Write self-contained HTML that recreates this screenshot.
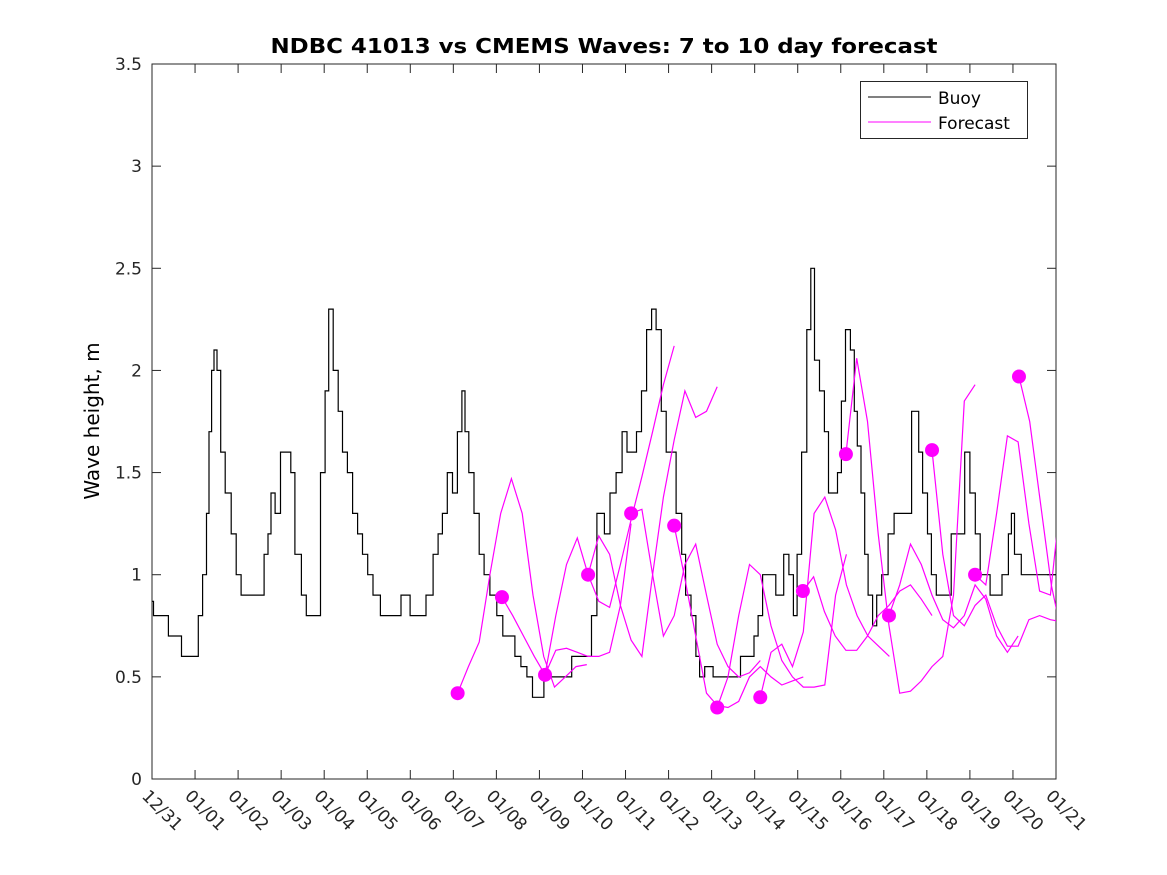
<!DOCTYPE html>
<html><head><meta charset="utf-8"><style>
html,body{margin:0;padding:0;background:#fff;}
svg{display:block;font-family:"DejaVu Sans","Liberation Sans",sans-serif;}
</style></head><body>
<svg id="chart" width="1167" height="875" viewBox="0 0 1167 875">
<rect x="0" y="0" width="1167" height="875" fill="#fff"/>
<text x="604" y="53" text-anchor="middle" font-weight="bold" font-size="20" textLength="667" lengthAdjust="spacingAndGlyphs">NDBC 41013 vs CMEMS Waves: 7 to 10 day forecast</text>
<g id="plot"></g>
<text transform="translate(99,421) rotate(-90)" text-anchor="middle" font-size="20">Wave height, m</text>
</svg>
<script>
const xTickLabels = ["12/31","01/01","01/02","01/03","01/04","01/05","01/06","01/07","01/08","01/09","01/10","01/11","01/12","01/13","01/14","01/15","01/16","01/17","01/18","01/19","01/20","01/21"];
const yTicks = [0,0.5,1,1.5,2,2.5,3,3.5];
const yTickLabels = ["0","0.5","1","1.5","2","2.5","3","3.5"];
const buoyDays = [0,0.07,0.3,0.46,0.65,0.72,1.03,1.12,1.23,1.3,1.35,1.42,1.46,1.56,1.63,1.77,1.91,2.0,2.14,2.56,2.65,2.74,2.79,2.93,3.04,3.2,3.25,3.39,3.55,3.62,3.86,3.97,4.07,4.14,4.28,4.37,4.48,4.6,4.72,4.83,4.95,5.07,5.2,5.41,5.64,5.76,5.81,5.95,6.04,6.27,6.46,6.6,6.69,6.8,6.92,7.04,7.15,7.25,7.29,7.43,7.53,7.67,7.76,7.94,8.08,8.22,8.36,8.5,8.64,8.78,8.9,9.08,9.13,9.6,9.9,10.13,10.29,10.38,10.45,10.57,10.71,10.85,10.99,11.08,11.2,11.31,11.43,11.55,11.66,11.76,11.9,11.99,12.08,12.27,12.34,12.45,12.59,12.68,12.76,12.92,13.15,13.4,13.94,14.03,14.13,14.24,14.35,14.63,14.72,14.87,14.93,15.04,15.14,15.28,15.33,15.45,15.56,15.68,15.75,15.87,15.98,16.05,16.17,16.28,16.35,16.42,16.52,16.59,16.68,16.8,16.87,17.03,17.17,17.31,17.61,17.68,17.78,17.84,17.96,18.07,18.14,18.3,18.53,18.6,18.83,18.93,19.07,19.18,19.3,19.64,19.85,19.94,19.99,20.08,20.31,20.59,21.0];
const buoyValues = [0.87,0.8,0.8,0.7,0.7,0.6,0.6,0.8,1.0,1.3,1.7,2.0,2.1,2.0,1.6,1.4,1.2,1.0,0.9,0.9,1.1,1.2,1.4,1.3,1.6,1.6,1.5,1.1,0.9,0.8,0.8,1.5,1.9,2.3,2.0,1.8,1.6,1.5,1.3,1.2,1.1,1.0,0.9,0.8,0.8,0.8,0.9,0.9,0.8,0.8,0.9,1.1,1.2,1.3,1.5,1.4,1.7,1.9,1.7,1.5,1.3,1.1,1.0,0.9,0.8,0.7,0.7,0.6,0.55,0.5,0.4,0.4,0.5,0.5,0.6,0.6,0.8,1.3,1.3,1.2,1.4,1.5,1.7,1.6,1.6,1.7,1.9,2.2,2.3,2.2,1.8,1.6,1.6,1.3,1.1,0.9,0.8,0.6,0.5,0.55,0.5,0.5,0.6,0.7,0.8,1.0,1.0,0.9,1.1,1.0,0.8,1.1,1.6,2.2,2.5,2.05,1.9,1.7,1.4,1.4,1.5,1.85,2.2,2.1,1.8,1.63,1.4,1.1,0.9,0.75,0.9,1.0,1.2,1.3,1.3,1.8,1.8,1.6,1.4,1.2,1.0,0.9,0.9,1.2,1.2,1.6,1.4,1.2,1.0,0.9,1.0,1.2,1.3,1.1,1.0,1.0,1.0];
const forecastStarts = [7.1,8.13,9.13,10.13,11.13,12.13,13.13,14.13,15.12,16.12,17.12,18.12,19.12,20.14];
const forecast1 = [0.42,0.55,0.67,1.0,1.3,1.47,1.3,0.9,0.6,0.45,0.5,0.55,0.56];
const forecast2 = [0.89,0.8,0.7,0.6,0.51,0.63,0.64,0.62,0.6,0.6,0.62,0.85,1.25];
const forecast3 = [0.51,0.8,1.05,1.18,1.0,0.87,0.84,1.05,1.27,1.48,1.7,1.93,2.12];
const forecast4 = [1.0,1.19,1.1,0.85,0.68,0.6,1.0,1.38,1.66,1.9,1.77,1.8,1.92];
const forecast5 = [1.3,1.32,1.0,0.7,0.8,1.05,1.15,0.9,0.66,0.55,0.5,0.52,0.58];
const forecast6 = [1.24,0.98,0.7,0.42,0.36,0.35,0.38,0.5,0.55,0.5,0.46,0.48,0.5];
const forecast7 = [0.35,0.5,0.8,1.05,1.0,0.75,0.58,0.5,0.45,0.45,0.46,0.9,1.1];
const forecast8 = [0.40,0.62,0.66,0.55,0.72,1.3,1.38,1.22,0.95,0.8,0.7,0.65,0.6];
const forecast9 = [0.92,0.99,0.82,0.7,0.63,0.63,0.7,0.8,0.85,0.92,0.95,0.88,0.8];
const forecast10 = [1.59,2.06,1.75,1.2,0.75,0.42,0.43,0.48,0.55,0.6,0.9,1.85,1.93];
const forecast11 = [0.8,0.95,1.15,1.05,0.9,0.78,0.74,0.8,0.95,0.88,0.7,0.62,0.7];
const forecast12 = [1.61,1.1,0.8,0.75,0.85,0.9,0.75,0.65,0.65,0.78,0.8,0.78,0.77];
const forecast13 = [1.0,0.95,1.3,1.68,1.65,1.25,0.92,0.9,1.4];
const forecast14 = [1.97,1.75,1.35,0.95,0.7];
const forecasts = [forecast1,forecast2,forecast3,forecast4,forecast5,forecast6,forecast7,forecast8,forecast9,forecast10,forecast11,forecast12,forecast13,forecast14];

const L=152,R=1056,T=64,B=779;
const xS=d=>L+(R-L)*d/21;
const yS=v=>B-(B-T)*v/3.5;
const NS='http://www.w3.org/2000/svg';
const g=document.getElementById('plot');
function mk(tag,attrs,parent){const e=document.createElementNS(NS,tag);for(const k in attrs)e.setAttribute(k,attrs[k]);(parent||g).appendChild(e);return e;}

const defs=mk('defs',{});
const cp=mk('clipPath',{id:'clip'},defs);
mk('rect',{x:L,y:T,width:R-L,height:B-T},cp);

const box=mk('rect',{x:L,y:T,width:R-L,height:B-T,fill:'none',stroke:'#262626','stroke-width':1});



xTickLabels.forEach((lab,i)=>{
  const x=xS(i);
  const t1=mk('line',{x1:x,y1:B,x2:x,y2:B-9,stroke:'#262626'});
  
  
  mk('line',{x1:x,y1:T,x2:x,y2:T+9,stroke:'#262626'});
  const tx=mk('text',{x:x-11,y:B+18,'font-size':17,fill:'#262626',transform:`rotate(45 ${x-11} ${B+18})`});
  tx.textContent=lab;
  
  
});
yTicks.forEach((v,i)=>{
  const y=yS(v);
  const t1=mk('line',{x1:L,y1:y,x2:L+9,y2:y,stroke:'#262626'});
  
  
  mk('line',{x1:R,y1:y,x2:R-9,y2:y,stroke:'#262626'});
  const tx=mk('text',{x:L-10,y:y+6,'font-size':17,'text-anchor':'end',fill:'#262626'});
  tx.textContent=yTickLabels[i];
  
  
});

// buoy as staircase, transitions at segment midpoints
let d='M'+xS(buoyDays[0]).toFixed(1)+','+yS(buoyValues[0]).toFixed(1);
for(let i=1;i<buoyDays.length;i++){
  const xm=xS((buoyDays[i-1]+buoyDays[i])/2);
  d+=' H'+xm.toFixed(1)+' V'+yS(buoyValues[i]).toFixed(1);
}
d+=' H'+xS(buoyDays[buoyDays.length-1]).toFixed(1);
const buoy=mk('path',{d:d,fill:'none',stroke:'#000','stroke-width':1.2,'clip-path':'url(#clip)'});



forecasts.forEach((vals,k)=>{
  const s=forecastStarts[k];
  const pts=vals.map((v,i)=>xS(s+i*0.25).toFixed(1)+','+yS(v).toFixed(1)).join(' ');
  const pl=mk('polyline',{points:pts,fill:'none',stroke:'#ff00ff','stroke-width':1.2,'clip-path':'url(#clip)'});
  
  
});
forecasts.forEach((vals,k)=>{
  const c=mk('circle',{cx:xS(forecastStarts[k]),cy:yS(vals[0]),r:7,fill:'#ff00ff'});
  
  
});

const lg=mk('g',{});


mk('rect',{x:860.5,y:81.5,width:167,height:57,fill:'#fff',stroke:'#262626'},lg);
mk('line',{x1:868,y1:97,x2:931,y2:97,stroke:'#000'},lg);
mk('line',{x1:868,y1:122,x2:931,y2:122,stroke:'#ff00ff'},lg);
const l1=mk('text',{x:938,y:104,'font-size':17,fill:'#000'},lg);
l1.textContent='Buoy';


const l2=mk('text',{x:938,y:129,'font-size':17,fill:'#000'},lg);
l2.textContent='Forecast';


</script>
</body></html>
